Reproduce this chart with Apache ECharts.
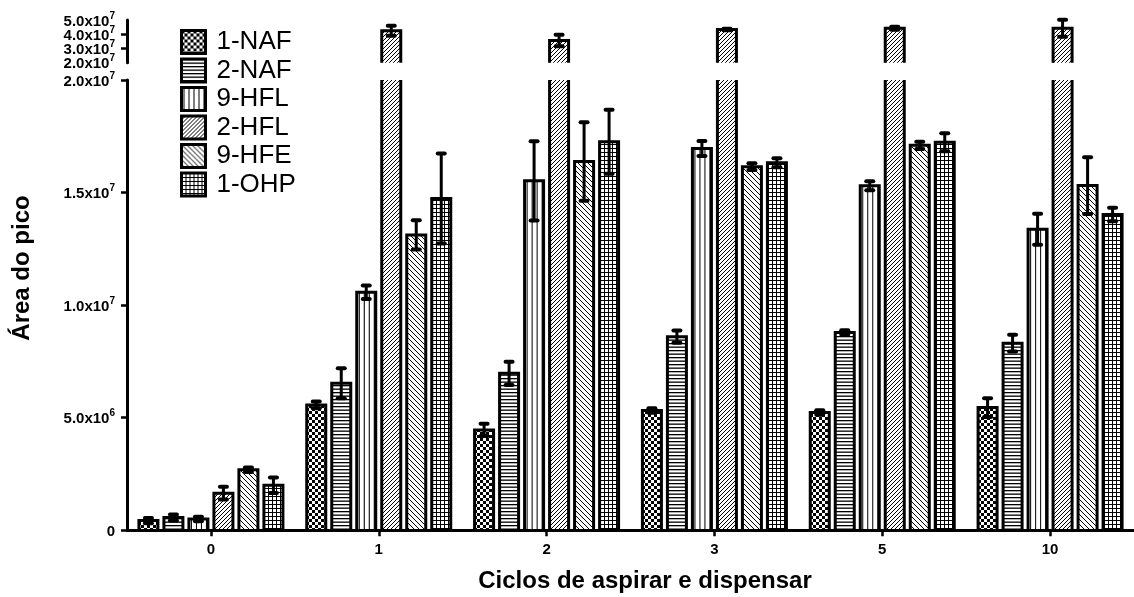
<!DOCTYPE html>
<html>
<head>
<meta charset="utf-8">
<script src="https://cdn.jsdelivr.net/npm/echarts@6/dist/echarts.min.js"></script>
<style>
  html, body { margin: 0; padding: 0; background: #fff; }
  #chart { width: 1134px; height: 597px; }
</style>
</head>
<body>
<div id="chart"></div>
<script>
// Cycle counts on the x axis
const categories = ['0', '1', '2', '3', '5', '10'];
const seriesNames = ['1-NAF', '2-NAF', '9-HFL', '2-HFL', '9-HFE', '1-OHP'];

// Mean peak areas and their error (one value per cycle count)
const naf1      = [4.3e5, 5.57e6, 4.46e6, 5.32e6, 5.23e6, 5.45e6];
const naf1Err   = [1.2e5, 1.5e5, 2.7e5, 1.0e5, 1.0e5, 4.2e5];
const naf2      = [5.7e5, 6.53e6, 6.97e6, 8.60e6, 8.78e6, 8.31e6];
const naf2Err   = [1.3e5, 6.7e5, 5.2e5, 2.7e5, 1.0e5, 3.7e5];
const hfl9      = [5.0e5, 1.057e7, 1.552e7, 1.696e7, 1.530e7, 1.337e7];
const hfl9Err   = [1.0e5, 3.0e5, 1.76e6, 3.3e5, 2.0e5, 6.9e5];
const hfl2      = [1.65e6, 4.24e7, 3.56e7, 4.33e7, 4.42e7, 4.42e7];
const hfl2Err   = [2.8e5, 3.5e6, 4.0e6, 5.0e5, 1.0e6, 6.0e6];
const hfe9      = [2.69e6, 1.312e7, 1.638e7, 1.615e7, 1.710e7, 1.531e7];
const hfe9Err   = [1.0e5, 6.5e5, 1.74e6, 1.5e5, 1.6e5, 1.26e6];
const ohp1      = [2.0e6, 1.474e7, 1.726e7, 1.633e7, 1.723e7, 1.403e7];
const ohp1Err   = [3.4e5, 2.0e6, 1.42e6, 2.0e5, 4.0e5, 3.0e5];

const means = [naf1, naf2, hfl9, hfl2, hfe9, ohp1];
const errors = [naf1Err, naf2Err, hfl9Err, hfl2Err, hfe9Err, ohp1Err];

// Broken value axis: [min, max, interval] for the lower and upper segments
const lowerRange = [0, 2e7, 5e6];
const upperRange = [2e7, 5e7, 1e7];

const FONT = 'Arial, "Liberation Sans", Helvetica, sans-serif';
const BAR_W = 19;
const BAR_GAP = 6;

// ---- fill patterns -------------------------------------------------------
function tile(w, h, draw) {
  const c = document.createElement('canvas');
  c.width = w; c.height = h;
  const g = c.getContext('2d');
  g.fillStyle = '#fff'; g.fillRect(0, 0, w, h);
  g.fillStyle = '#000'; g.strokeStyle = '#000';
  draw(g, w, h);
  return c;
}
const tiles = [
  // checkerboard
  tile(6, 6, g => { g.fillRect(0, 0, 3, 3); g.fillRect(3, 3, 3, 3); }),
  // horizontal lines
  tile(4, 7, g => { g.fillRect(0, 0, 4, 1.3); g.fillRect(0, 3.5, 4, 1.3); }),
  // vertical lines
  tile(5, 4, g => { g.fillRect(2, 0, 1, 4); }),
  // forward diagonal hatching
  tile(4, 4, g => {
    g.lineWidth = 1; g.beginPath();
    g.moveTo(-1, 5); g.lineTo(5, -1);
    g.moveTo(-1, 1); g.lineTo(1, -1);
    g.moveTo(3, 5); g.lineTo(5, 3);
    g.stroke();
  }),
  // backward diagonal hatching
  tile(5, 5, g => {
    g.lineWidth = 1; g.beginPath();
    g.moveTo(-1, -1); g.lineTo(6, 6);
    g.moveTo(4, -1); g.lineTo(6, 1);
    g.moveTo(-1, 4); g.lineTo(1, 6);
    g.stroke();
  }),
  // square grid
  tile(4, 4, g => { g.fillRect(0, 0, 4, 1); g.fillRect(0, 0, 1, 4); })
];
function pattern(i, x) {
  const p = { type: 'pattern', image: tiles[i], repeat: 'repeat' };
  if (x !== undefined && i === 2) { p.x = x; p.y = 0; }
  return p;
}

// ---- bars with error bars, drawn per axis segment -------------------------
function makeRenderItem(si) {
  return function (params, api) {
    const cat = api.value(0), v = api.value(1), e = api.value(2);
    const cs = params.coordSys;
    const top = cs.y, bot = cs.y + cs.height;
    const p = api.coord([cat, v]);
    let yv = p[1];
    if (yv >= bot) return null;
    const over = yv < top;
    if (over) yv = top;
    const cx = p[0] + (si - 2.5) * (BAR_W + BAR_GAP);
    const y0 = Math.min(api.coord([cat, 0])[1], bot);
    const xl = cx - BAR_W / 2, xr = cx + BAR_W / 2;
    const edge = { stroke: '#000', lineWidth: 3, fill: null, lineJoin: 'miter' };
    const children = [
      { type: 'rect', shape: { x: xl, y: yv, width: BAR_W, height: y0 - yv },
        style: { fill: pattern(si, xl) } }
    ];
    if (over) {
      children.push({ type: 'line', shape: { x1: xl, y1: y0, x2: xl, y2: yv }, style: edge });
      children.push({ type: 'line', shape: { x1: xr, y1: y0, x2: xr, y2: yv }, style: edge });
    } else {
      children.push({ type: 'polyline', shape: { points: [[xl, y0], [xl, yv], [xr, yv], [xr, y0]] }, style: edge });
      if (e > 0) {
        const yHi = api.coord([cat, v + e])[1];
        const yLo = Math.min(api.coord([cat, v - e])[1], bot);
        const bar = { stroke: '#000', lineWidth: 3 };
        const cap = { stroke: '#000', lineWidth: 4, lineCap: 'round' };
        children.push({ type: 'line', shape: { x1: cx, y1: yLo, x2: cx, y2: yHi }, style: bar });
        children.push({ type: 'line', shape: { x1: cx - 3.5, y1: yHi, x2: cx + 3.5, y2: yHi }, style: cap });
        if (yLo < bot) {
          children.push({ type: 'line', shape: { x1: cx - 3.5, y1: yLo, x2: cx + 3.5, y2: yLo }, style: cap });
        }
      }
    }
    return { type: 'group', children };
  };
}

function sciLabel(v) {
  if (v === 0) return '{m|0}';
  const ex = Math.floor(Math.log10(v) + 1e-9);
  const mant = (v / Math.pow(10, ex)).toFixed(1);
  return '{m|' + mant + 'x10}{e|' + ex + '}';
}
const labelRich = {
  m: { fontFamily: FONT, fontWeight: 'bold', fontSize: 15, color: '#000', lineHeight: 18, verticalAlign: 'bottom' },
  e: { fontFamily: FONT, fontWeight: 'bold', fontSize: 10, color: '#000', lineHeight: 10, verticalAlign: 'top' }
};

const axisLineStyle = { color: '#000', width: 3 };
const tickStyle = { color: '#000', width: 2.5 };

function valueAxis(gi, range, labelOpts) {
  return {
    type: 'value', gridIndex: gi,
    min: range[0], max: range[1], interval: range[2],
    axisLine: { show: true, lineStyle: axisLineStyle },
    axisTick: { show: true, length: 6, lineStyle: tickStyle },
    axisLabel: Object.assign({ margin: 12, formatter: sciLabel, rich: labelRich, hideOverlap: false }, labelOpts || {}),
    splitLine: { show: false }
  };
}

// Upper segment: one axis carries the line, ticks and inner labels,
// a companion axis on the same grid carries only the end labels.
const upperMain = valueAxis(0, upperRange, { showMinLabel: false, showMaxLabel: false });
const upperEnds = valueAxis(0, upperRange, {
  showMinLabel: true, showMaxLabel: true,
  formatter: v => (v === upperRange[0] || v === upperRange[1]) ? sciLabel(v) : ''
});
upperEnds.position = 'left';
upperEnds.axisLine = { show: false };
upperEnds.axisTick = { show: false };
const lowerAxis = valueAxis(1, lowerRange, { showMinLabel: true, showMaxLabel: true });

const series = [];
[[0, 0], [1, 2]].forEach(([gi, yi]) => {
  means.forEach((vals, si) => {
    series.push({
      type: 'custom',
      name: seriesNames[si],
      xAxisIndex: gi, yAxisIndex: yi,
      renderItem: makeRenderItem(si),
      itemStyle: { color: pattern(si) },
      encode: { x: 0, y: 1 },
      data: vals.map((v, ci) => [ci, v, errors[si][ci]]),
      z: 2
    });
  });
});

const chart = echarts.init(document.getElementById('chart'), null, { renderer: 'canvas' });
chart.setOption({
  animation: false,
  backgroundColor: '#fff',
  grid: [
    { left: 127, right: -7, top: 20, height: 42.7 },
    { left: 127, right: -7, top: 80, height: 450.3 }
  ],
  xAxis: [
    { type: 'category', gridIndex: 0, data: categories, show: false },
    {
      type: 'category', gridIndex: 1, data: categories, z: 5,
      axisLine: { show: true, lineStyle: axisLineStyle },
      axisTick: { show: true, alignWithLabel: true, length: 6, lineStyle: tickStyle },
      axisLabel: { margin: 12, fontFamily: FONT, fontWeight: 'bold', fontSize: 15, color: '#000' }
    }
  ],
  yAxis: [upperMain, upperEnds, lowerAxis],
  legend: {
    orient: 'vertical', left: 180, top: 29, padding: 0,
    itemWidth: 24, itemHeight: 23, itemGap: 2.5,
    textStyle: { fontFamily: FONT, fontSize: 26, color: '#000', lineHeight: 23, padding: [0, 0, 0, 6] },
    data: seriesNames.map((n, i) => ({
      name: n, icon: 'rect',
      itemStyle: { color: pattern(i), borderColor: '#000', borderWidth: 3 }
    })),
    selectedMode: false
  },
  graphic: [
    {
      type: 'text', x: 22, y: 268, rotation: Math.PI / 2,
      style: { text: 'Área do pico', font: 'bold 24px ' + FONT, fill: '#000', align: 'center', verticalAlign: 'middle' }
    },
    {
      type: 'text', x: 645, y: 581,
      style: { text: 'Ciclos de aspirar e dispensar', font: 'bold 24px ' + FONT, fill: '#000', align: 'center', verticalAlign: 'middle' }
    }
  ],
  series
});
</script>
</body>
</html>
